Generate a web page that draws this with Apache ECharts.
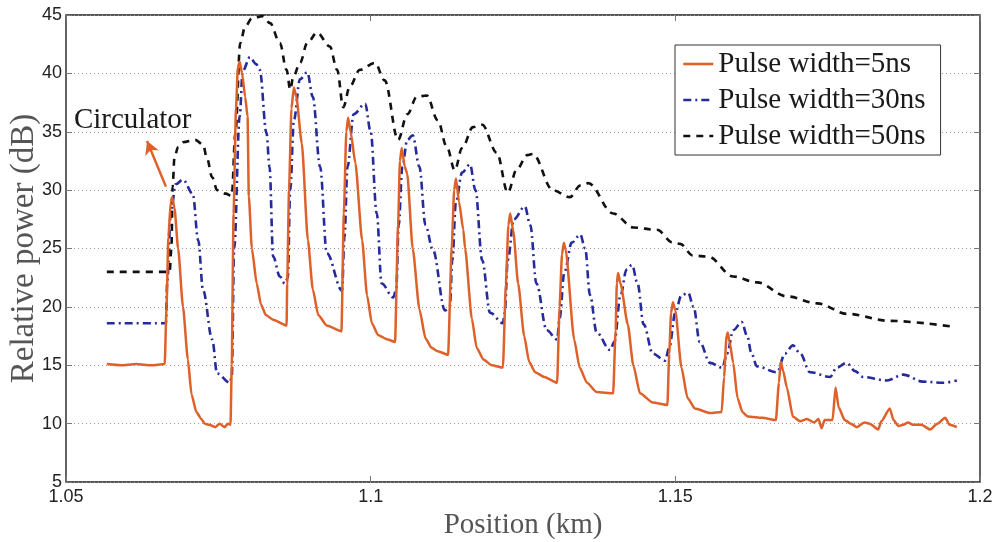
<!DOCTYPE html>
<html>
<head>
<meta charset="utf-8">
<script src="https://cdn.jsdelivr.net/npm/echarts@6/dist/echarts.min.js"></script>
<style>
  html, body { margin: 0; padding: 0; background: #fff; }
  #chart { width: 998px; height: 542px; }
</style>
</head>
<body>
<div id="chart"></div>
<script>
// position (km) and relative power (dB)
const pulse5 = [
  [1.0567, 15.1], [1.0590, 15.0], [1.0615, 15.1], [1.0640, 15.0], [1.0662, 15.1],
  [1.0665, 20], [1.0668, 26], [1.0672, 29.0], [1.0674, 29.4], [1.0678, 28.5],
  [1.0684, 25], [1.0692, 20], [1.0700, 15.5], [1.0706, 12.5], [1.0714, 11],
  [1.0722, 10.4], [1.0728, 10.0], [1.0735, 9.9], [1.0745, 9.7], [1.0752, 10.0],
  [1.0760, 9.7], [1.0766, 10.0], [1.0770, 9.9],
  [1.0772, 15], [1.0775, 28], [1.0779, 37], [1.0782, 40.5], [1.0785, 41.0],
  [1.0789, 40.0], [1.0794, 38], [1.0798, 36.3], [1.0800, 29.5], [1.0805, 25],
  [1.0813, 22], [1.0820, 20.2], [1.0828, 19.3], [1.0840, 18.9], [1.0862, 18.4],
  [1.0863, 22], [1.0866, 30], [1.0870, 37], [1.0874, 38.8], [1.0878, 38],
  [1.0887, 34.0], [1.0897, 25.7], [1.0905, 21.5], [1.0914, 19.3], [1.0928, 18.4],
  [1.0952, 17.9],
  [1.0956, 28], [1.0960, 35], [1.0963, 36.2], [1.0967, 35], [1.0975, 32.3],
  [1.0986, 25.7], [1.0994, 21], [1.1002, 18.6], [1.1012, 17.6], [1.1028, 17.2],
  [1.1040, 17.0],
  [1.1045, 27], [1.1048, 32.5], [1.1051, 33.6], [1.1056, 32], [1.1060, 31.4],
  [1.1069, 25], [1.1080, 19.8], [1.1090, 17.3], [1.1100, 16.5], [1.1110, 16.2],
  [1.1127, 15.9],
  [1.1133, 25], [1.1137, 30], [1.1140, 31.0], [1.1145, 29], [1.1152, 26.6],
  [1.1155, 25], [1.1166, 19], [1.1174, 16.5], [1.1185, 15.5], [1.1199, 15.0],
  [1.1217, 14.8],
  [1.1222, 22], [1.1226, 27], [1.1229, 28.0], [1.1234, 26.5], [1.1242, 22],
  [1.1252, 17.5], [1.1260, 15.3], [1.1270, 14.4], [1.1285, 14.0], [1.1306, 13.5],
  [1.1310, 20], [1.1314, 24.5], [1.1317, 25.5], [1.1320, 24.9], [1.1334, 17.2],
  [1.1343, 14.8], [1.1355, 13.5], [1.1371, 12.7], [1.1398, 12.6],
  [1.1402, 18], [1.1404, 22], [1.1406, 22.9], [1.1410, 22], [1.1422, 18.5],
  [1.1431, 15], [1.1442, 12.6], [1.1463, 11.8], [1.1487, 11.6],
  [1.1490, 16], [1.1493, 19.5], [1.1496, 20.4], [1.1500, 19.7], [1.1510, 14.8],
  [1.1520, 12.2], [1.1532, 11.3], [1.1557, 10.9], [1.1576, 11.0],
  [1.1580, 14], [1.1584, 17.5], [1.1586, 17.8], [1.1589, 17], [1.1595, 15.2],
  [1.1602, 12.2], [1.1610, 11.0], [1.1619, 10.6], [1.1643, 10.5], [1.1665, 10.3],
  [1.1670, 13.5], [1.1673, 15.3], [1.1677, 14.5], [1.1683, 13.1], [1.1693, 10.6],
  [1.1705, 10.2], [1.1716, 10.4], [1.1728, 10.1], [1.1735, 10.4], [1.1740, 9.6],
  [1.1745, 10.3], [1.1758, 10.3],
  [1.1763, 13.1], [1.1768, 11.4], [1.1778, 10.3], [1.1788, 10.0], [1.1798, 9.7],
  [1.1810, 10.1], [1.1819, 10.0], [1.1833, 9.5], [1.1838, 10.2], [1.1852, 11.3],
  [1.1858, 10.3], [1.1866, 9.8], [1.1874, 9.9], [1.1882, 10.1], [1.1890, 9.9],
  [1.1904, 9.9], [1.1918, 9.5], [1.1930, 10.0], [1.1943, 10.5], [1.1950, 9.9],
  [1.1962, 9.7]
];

const pulse30 = [
  [1.0567, 18.6], [1.0664, 18.6], [1.0666, 22], [1.0672, 28], [1.0680, 30.5],
  [1.0692, 30.9], [1.0708, 29.7], [1.0717, 25.7], [1.0725, 21.4], [1.0740, 17.2],
  [1.0748, 14.3], [1.0769, 13.5], [1.0772, 14], [1.0776, 25], [1.0785, 36.3],
  [1.0790, 40.2], [1.0802, 41.4], [1.0812, 40.8], [1.0818, 40.3], [1.0829, 34.9],
  [1.0834, 32], [1.0840, 24.3], [1.0851, 22.6], [1.0859, 22], [1.0864, 22.5],
  [1.0868, 30], [1.0874, 36], [1.0884, 39.5], [1.0896, 40.1], [1.0905, 38],
  [1.0917, 32], [1.0928, 24.6], [1.0953, 21.4], [1.0957, 26], [1.0962, 32],
  [1.0972, 36.5], [1.0991, 37.4], [1.1000, 35], [1.1010, 28], [1.1018, 22],
  [1.1037, 20.8], [1.1042, 21.5], [1.1046, 27], [1.1052, 32], [1.1060, 34.3],
  [1.1069, 34.7], [1.1080, 32], [1.1090, 27], [1.1102, 24.9], [1.1122, 19.7],
  [1.1130, 20], [1.1134, 24], [1.1140, 29], [1.1150, 31.5], [1.1163, 32.2],
  [1.1172, 30], [1.1183, 24], [1.1196, 19.5], [1.1217, 18.6], [1.1220, 19.5],
  [1.1225, 24], [1.1235, 27.5], [1.1253, 28.6], [1.1262, 27], [1.1272, 22],
  [1.1289, 18.0], [1.1306, 17.2], [1.1310, 19], [1.1318, 23], [1.1330, 25.5],
  [1.1344, 26.2], [1.1352, 25], [1.1360, 21], [1.1371, 17.8], [1.1393, 16.3],
  [1.1400, 17], [1.1410, 21], [1.1420, 23.2], [1.1429, 23.6], [1.1438, 22],
  [1.1448, 18.5], [1.1463, 16.0], [1.1483, 15.4], [1.1490, 16.5], [1.1500, 19.5],
  [1.1510, 21], [1.1521, 21.2], [1.1530, 20], [1.1540, 17], [1.1557, 15.2],
  [1.1577, 14.8], [1.1585, 16], [1.1595, 18], [1.1609, 18.7], [1.1618, 17.5],
  [1.1625, 16], [1.1634, 14.9], [1.1667, 14.4], [1.1680, 16], [1.1693, 16.7],
  [1.1705, 16], [1.1721, 14.4], [1.1754, 14.0], [1.1765, 14.8], [1.1781, 15.2],
  [1.1795, 14.5], [1.1808, 14.0], [1.1847, 13.7], [1.1874, 14.2], [1.1906, 13.6],
  [1.1939, 13.5], [1.1962, 13.7]
];

const pulse50 = [
  [1.0567, 23.0], [1.0670, 23.0], [1.0673, 25], [1.0675, 30.3], [1.0678, 32.8],
  [1.0684, 33.7], [1.0692, 34.1], [1.0712, 34.3], [1.0725, 33.9], [1.0731, 32.8],
  [1.0740, 31.1], [1.0748, 30.0], [1.0762, 29.7], [1.0772, 29.5], [1.0778, 34.9],
  [1.0786, 42.6], [1.0794, 44], [1.0805, 44.7], [1.0823, 44.9], [1.0835, 44.3],
  [1.0851, 42.6], [1.0862, 40.3], [1.0868, 38.6], [1.0873, 39.7], [1.0884, 40.9],
  [1.0896, 42.6], [1.0912, 43.5], [1.0933, 42.3], [1.0945, 40.3], [1.0955, 37.1],
  [1.0966, 38.9], [1.0982, 40.3], [1.1007, 40.9], [1.1023, 39.4], [1.1045, 34.3],
  [1.1060, 36.5], [1.1076, 38.0], [1.1092, 38.1], [1.1110, 36], [1.1125, 33.7],
  [1.1138, 31.7], [1.1150, 33.6], [1.1168, 35.4], [1.1183, 35.6], [1.1207, 33.2],
  [1.1225, 29.8], [1.1240, 31.8], [1.1257, 33.0], [1.1266, 33.1], [1.1299, 30.0],
  [1.1327, 29.4], [1.1344, 30.4], [1.1357, 30.6], [1.1398, 28.0], [1.1431, 26.8],
  [1.1470, 26.6], [1.1496, 25.5], [1.1508, 25.4], [1.1529, 24.4], [1.1554, 24.3],
  [1.1595, 22.6], [1.1634, 22.1], [1.1683, 20.9], [1.1733, 20.3], [1.1782, 19.4],
  [1.1852, 18.8], [1.1956, 18.3]
];

const seriesNames = ['Pulse width=5ns', 'Pulse width=30ns', 'Pulse width=50ns'];
const xTicks = [1.05, 1.1, 1.15, 1.2];
const yTicks = [5, 10, 15, 20, 25, 30, 35, 40, 45];

// the "Circulator" note and its arrow, in data units
const noteAt = [1.0513, 36.0];
const arrowFrom = [1.0664, 30.3];
const arrowTo = [1.0633, 34.2];

const serif = 'Liberation Serif';
const sans = 'Liberation Sans';
const orange = '#dd6129';
const blue = '#262b9c';
const black = '#111';

const chart = echarts.init(document.getElementById('chart'), null, { renderer: 'canvas' });

const fmtX = v => {
  const r = Math.round(v * 100) / 100;
  return xTicks.some(t => Math.abs(t - r) < 1e-9) ? String(r) : '';
};
const fmtY = v => (yTicks.indexOf(Math.round(v)) >= 0 ? String(Math.round(v)) : '');

const tick = { show: true, inside: true, length: 6, lineStyle: { color: '#777', width: 1 } };
const tickOnly = {
  axisLine: { show: false },
  axisTick: tick,
  axisLabel: { show: false },
  splitLine: { show: false }
};

const option = {
  backgroundColor: '#fff',
  animation: false,
  grid: {
    left: 66, right: 18, top: 15, bottom: 60,
    outerBoundsMode: 'none',
    show: true, borderColor: '#222', borderWidth: 1.4, backgroundColor: '#fff'
  },
  legend: {
    orient: 'vertical',
    left: 675, top: 45,
    padding: [4, 15, 4, 7],
    itemGap: 6,
    itemWidth: 30,
    itemHeight: 14,
    borderColor: '#333', borderWidth: 1,
    backgroundColor: '#fff',
    itemStyle: { opacity: 0 },
    lineStyle: { width: 2.6 },
    textStyle: { fontFamily: serif, fontSize: 29, color: '#1a1a1a', lineHeight: 30 },
    data: seriesNames
  },
  xAxis: [
    {
      type: 'value', min: 1.05, max: 1.2, interval: 0.05,
      name: 'Position (km)', nameLocation: 'middle', nameGap: 24,
      nameTextStyle: { fontFamily: serif, fontSize: 29, color: '#555' },
      axisLine: { show: false },
      axisTick: tick,
      axisLabel: { formatter: fmtX, fontFamily: sans, fontSize: 18, color: '#222', margin: 6 },
      splitLine: { show: false }
    },
    Object.assign({ type: 'value', min: 1.05, max: 1.2, interval: 0.05, position: 'top' }, tickOnly)
  ],
  yAxis: [
    {
      type: 'value', min: 5, max: 45, interval: 5,
      name: 'Relative power (dB)', nameLocation: 'middle', nameGap: 25,
      nameMoveOverlap: false,
      nameTextStyle: { fontFamily: serif, fontSize: 33, color: '#555' },
      axisLine: { show: false },
      axisTick: tick,
      axisLabel: { formatter: fmtY, fontFamily: sans, fontSize: 18, color: '#222', margin: 4 },
      splitLine: { show: true, lineStyle: { type: [1, 3], color: '#999', width: 1 } }
    },
    Object.assign({ type: 'value', min: 5, max: 45, interval: 5, position: 'right' }, tickOnly)
  ],
  series: [
    {
      name: seriesNames[0], type: 'line', data: pulse5, showSymbol: false, symbol: 'none',
      smooth: 0.2, smoothMonotone: 'x', z: 4,
      lineStyle: { color: orange, width: 2.5 },
      itemStyle: { color: orange },
      markPoint: {
        symbol: 'circle', symbolSize: 0, silent: true,
        data: [{ coord: noteAt, value: 'Circulator' }],
        label: {
          show: true, position: 'right', distance: 0, formatter: 'Circulator',
          fontFamily: serif, fontSize: 29, color: '#1a1a1a'
        }
      },
      markLine: {
        silent: true, symbol: ['none', 'arrow'], symbolSize: [11, 13],
        lineStyle: { color: orange, width: 2.5, type: 'solid' },
        label: { show: false },
        data: [[{ coord: arrowFrom }, { coord: arrowTo }]]
      }
    },
    {
      name: seriesNames[1], type: 'line', data: pulse30, showSymbol: false, symbol: 'none',
      smooth: 0.35, smoothMonotone: 'x', z: 3,
      lineStyle: { color: blue, width: 2.6, type: [8, 4, 2, 4] },
      itemStyle: { color: blue }
    },
    {
      name: seriesNames[2], type: 'line', data: pulse50, showSymbol: false, symbol: 'none',
      smooth: 0.35, smoothMonotone: 'x', z: 2,
      lineStyle: { color: black, width: 2.6, type: [7, 6] },
      itemStyle: { color: black }
    }
  ]
};

chart.setOption(option);
</script>
</body>
</html>
